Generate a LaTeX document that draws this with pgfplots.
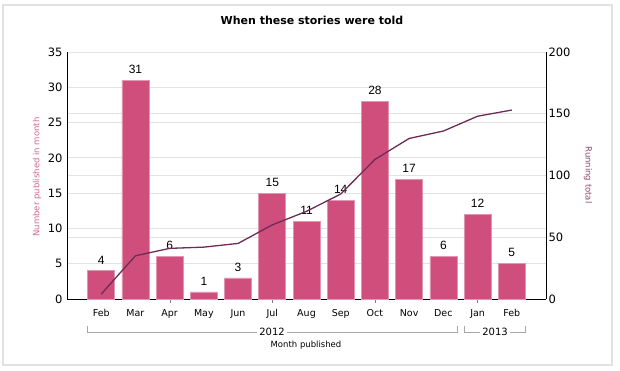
\documentclass[border=0pt]{standalone}
\usepackage{pgfplots}
\pgfplotsset{compat=1.18}
\pgfplotsset{/pgf/number format/assume math mode=true}
\usepackage{fontspec}
\setmainfont{DejaVu Sans}
\newfontfamily\arial{Liberation Sans}
\definecolor{barc}{RGB}{207,78,124}
\definecolor{linec}{RGB}{110,44,85}
\definecolor{gridc}{RGB}{226,226,226}
\definecolor{lpink}{RGB}{214,100,140}
\definecolor{rpurp}{RGB}{140,70,110}
\begin{document}
\begin{tikzpicture}[x=1pt,y=1pt]
\useasboundingbox (-67,-71) rectangle (553,299);
\draw[gridc, line width=1.2pt] (-64,-66) rectangle (545,294);
\begin{axis}[at={(0,0)}, anchor=south west, width=479pt, height=247pt, scale only axis,
  xmin=-1, xmax=13, ymin=0, ymax=35,
  axis x line=bottom, axis y line=left,
  axis line style={-, black, line width=1pt},
  ytick={0,5,8.75,10,15,17.5,20,25,26.25,30,35},
  yticklabels={0,5,,10,15,,20,25,,30,35},
  ymajorgrids, grid style={gridc, line width=0.9pt},
  xtick={0,...,12},
  xticklabels={Feb,Mar,Apr,May,Jun,Jul,Aug,Sep,Oct,Nov,Dec,Jan,Feb},
  major tick length=0pt,
  extra x ticks={2,5,8,11}, extra x tick labels={},
  extra x tick style={major tick length=4pt, tick align=outside, tick style={gray}},
  tick label style={font=\fontsize{11.5}{12}\selectfont},
  yticklabel style={xshift=-1pt},
  xticklabel style={font=\fontsize{9.5}{11}\selectfont, yshift=-7pt},
  nodes near coords,
  nodes near coords style={font=\arial\fontsize{12}{13}\selectfont, black, yshift=3pt},
  clip=false
]
\addplot[ybar, bar width=27pt, fill=barc, draw=barc!60!white, line width=0.6pt] coordinates {
(0,4) (1,31) (2,6) (3,1) (4,3) (5,15) (6,11) (7,14) (8,28) (9,17) (10,6) (11,12) (12,5)};
\end{axis}
\begin{axis}[at={(0,0)}, anchor=south west, width=479pt, height=247pt, scale only axis,
  xmin=-1, xmax=13, ymin=0, ymax=200,
  axis y line=right, axis x line=none,
  axis line style={-, black, line width=1pt},
  ytick={0,50,...,200}, major tick length=0pt,
  tick label style={font=\fontsize{11.5}{12}\selectfont},
  yticklabel style={xshift=-1pt}
]
\addplot[linec, line width=1.3pt, mark=none] coordinates {
(0,4) (1,35) (2,41) (3,42) (4,45) (5,60) (6,71) (7,85) (8,113) (9,130) (10,136) (11,148) (12,153)};
\end{axis}
\node[font=\bfseries\fontsize{11}{12}\selectfont] at (245,279) {When these stories were told};
\node[rotate=90, text=lpink, font=\fontsize{8.5}{10}\selectfont] at (-30,122) {Number published in month};
\node[rotate=-90, text=rpurp, font=\fontsize{8.5}{10}\selectfont] at (521,124) {Running total};
\draw[gray!70, line width=0.6pt] (20.7,-27) |- (389.9,-33) -- (389.9,-27);
\draw[gray!70, line width=0.6pt] (397.1,-27) |- (458.3,-33) -- (458.3,-27);
\node[fill=white, inner sep=2pt, font=\fontsize{10}{11}\selectfont] at (205,-33) {2012};
\node[fill=white, inner sep=2pt, font=\fontsize{10}{11}\selectfont] at (428,-33) {2013};
\node[font=\fontsize{8.5}{10}\selectfont] at (239,-46) {Month published};
\end{tikzpicture}
\end{document}
